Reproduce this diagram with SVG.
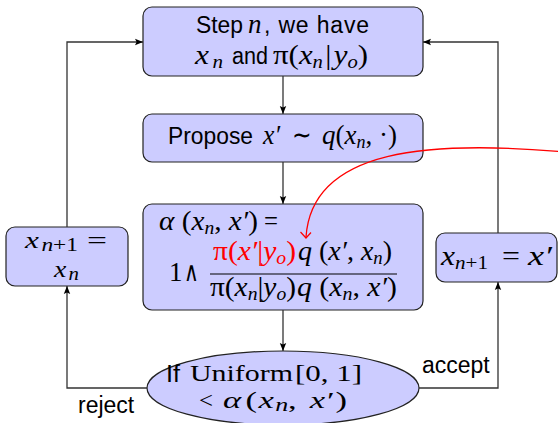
<svg xmlns="http://www.w3.org/2000/svg" width="558" height="423" viewBox="0 0 558 423">
  <defs>
    <marker id="arr" viewBox="0 0 10 10" refX="10" refY="5" markerWidth="8" markerHeight="8" markerUnits="userSpaceOnUse" orient="auto">
      <path d="M0,1 L10,5 L0,9 L2,5 Z" fill="#000"/>
    </marker>
    <style>
      .box { fill: #ccccff; stroke: #222; stroke-width: 1.2; }
      .conn { fill: none; stroke: #333; stroke-width: 1.3; }
      .sans { font-family: "Liberation Sans", Arial, sans-serif; font-size: 23px; fill: #000; }
      .m { font-family: "Liberation Serif", "Times New Roman", serif; font-size: 27px; fill: #000; }
      .sm { font-size: 24px; }
      .i { font-style: italic; }
      .s { font-size: 18px; }
      .red { fill: #ff0000; }
    </style>
  </defs>

  <!-- step n -->
  <g id="step">
    <rect class="box" x="143" y="7" width="280" height="69" rx="9"/>
    <text class="sans" x="196" y="33" textLength="47" lengthAdjust="spacingAndGlyphs">Step</text>
    <text class="m i" x="248" y="33">n</text>
    <text class="sans" x="264" y="33" textLength="105" lengthAdjust="spacing">, we have</text>
    <text class="m" x="195" y="64" textLength="28" lengthAdjust="spacingAndGlyphs"><tspan class="i">x</tspan><tspan class="i s" dx="3" dy="4">n</tspan></text>
    <text class="sans" x="232" y="64" textLength="36" lengthAdjust="spacingAndGlyphs">and</text>
    <text class="m" x="273" y="64" textLength="95" lengthAdjust="spacingAndGlyphs">π(<tspan class="i">x</tspan><tspan class="i s" dy="4">n</tspan><tspan dx="2" dy="-4">|</tspan><tspan class="i" dx="2">y</tspan><tspan class="i s" dy="4">o</tspan><tspan dy="-4">)</tspan></text>
  </g>

  <!-- proposal -->
  <g id="propose">
    <rect class="box" x="143" y="114" width="280" height="48" rx="9"/>
    <text class="sans" x="168" y="144" textLength="85" lengthAdjust="spacingAndGlyphs">Propose</text>
    <text class="m i" x="263" y="144" textLength="17" lengthAdjust="spacingAndGlyphs">x′</text>
    <text class="m" x="292" y="144" textLength="20" lengthAdjust="spacingAndGlyphs">∼</text>
    <text class="m" x="322" y="144" textLength="75" lengthAdjust="spacingAndGlyphs"><tspan class="i">q</tspan>(<tspan class="i">x</tspan><tspan class="i s" dy="4">n</tspan><tspan dy="-4">, ·)</tspan></text>
  </g>

  <!-- acceptance ratio -->
  <g id="alpha">
    <rect class="box" x="143" y="204" width="280" height="106" rx="9"/>
    <text class="m" x="159" y="230" textLength="99" lengthAdjust="spacingAndGlyphs"><tspan class="i">α</tspan> (<tspan class="i">x</tspan><tspan class="i s" dy="4">n</tspan><tspan dy="-4">, </tspan><tspan class="i">x′</tspan>)</text>
    <text class="m" x="264" y="230" textLength="14" lengthAdjust="spacingAndGlyphs">=</text>
    <text class="m" x="169" y="281">1</text>
    <text class="m" x="184" y="281" textLength="15" lengthAdjust="spacingAndGlyphs">∧</text>
    <text class="m red" x="213" y="260" textLength="83" lengthAdjust="spacingAndGlyphs">π(<tspan class="i">x′</tspan>|<tspan class="i">y</tspan><tspan class="i s" dy="4">o</tspan><tspan dy="-4">)</tspan></text>
    <text class="m" x="298" y="260" textLength="94" lengthAdjust="spacingAndGlyphs"><tspan class="i">q</tspan> (<tspan class="i">x′</tspan>, <tspan class="i">x</tspan><tspan class="i s" dy="4">n</tspan><tspan dy="-4">)</tspan></text>
    <line x1="210" y1="274" x2="397" y2="274" stroke="#000" stroke-width="1.1"/>
    <text class="m" x="210" y="296" textLength="86" lengthAdjust="spacingAndGlyphs">π(<tspan class="i">x</tspan><tspan class="i s" dy="4">n</tspan><tspan dy="-4">|</tspan><tspan class="i">y</tspan><tspan class="i s" dy="4">o</tspan><tspan dy="-4">)</tspan></text>
    <text class="m" x="297" y="296" textLength="100" lengthAdjust="spacingAndGlyphs"><tspan class="i">q</tspan> (<tspan class="i">x</tspan><tspan class="i s" dy="4">n</tspan><tspan dy="-4">, </tspan><tspan class="i">x′</tspan>)</text>
  </g>

  <!-- reject branch -->
  <g id="keep">
    <rect class="box" x="6" y="227" width="122" height="59" rx="9"/>
    <text class="m sm" x="25" y="248" textLength="53" lengthAdjust="spacingAndGlyphs"><tspan class="i">x</tspan><tspan class="s" dx="2" dy="3"><tspan class="i">n</tspan>+1</tspan></text>
    <text class="m sm" x="87" y="248" textLength="20" lengthAdjust="spacingAndGlyphs">=</text>
    <text class="m sm" x="54" y="277" textLength="25" lengthAdjust="spacingAndGlyphs"><tspan class="i">x</tspan><tspan class="i s" dx="2" dy="3">n</tspan></text>
  </g>

  <!-- accept branch -->
  <g id="move">
    <rect class="box" x="436" y="233" width="121" height="49" rx="9"/>
    <text class="m" x="441" y="265" textLength="47" lengthAdjust="spacingAndGlyphs"><tspan class="i">x</tspan><tspan class="s" dy="4"><tspan class="i">n</tspan>+1</tspan></text>
    <text class="m" x="502" y="265" textLength="18" lengthAdjust="spacingAndGlyphs">=</text>
    <text class="m i" x="528" y="265" textLength="24" lengthAdjust="spacingAndGlyphs">x′</text>
  </g>

  <!-- uniform test -->
  <g id="test">
    <ellipse class="box" cx="283" cy="388" rx="136" ry="37"/>
    <text class="sans" x="166" y="382" textLength="14" lengthAdjust="spacingAndGlyphs">If</text>
    <text class="m sm" x="190" y="381" textLength="103" lengthAdjust="spacingAndGlyphs">Uniform</text>
    <text class="m sm" x="295" y="381" textLength="67" lengthAdjust="spacingAndGlyphs">[0, 1]</text>
    <text class="m sm" x="199" y="408" textLength="14" lengthAdjust="spacingAndGlyphs">&lt;</text>
    <text class="m sm" x="223" y="408" textLength="124" lengthAdjust="spacingAndGlyphs"><tspan class="i">α</tspan><tspan dx="3">(</tspan><tspan class="i" dx="1">x</tspan><tspan class="i s" dx="1" dy="3">n</tspan><tspan dy="-3">,</tspan><tspan class="i" dx="9">x′</tspan><tspan dx="2">)</tspan></text>
  </g>

  <!-- connectors and branch labels -->
  <g id="connectors">
    <path class="conn" d="M283 76 V114" marker-end="url(#arr)"/>
    <path class="conn" d="M283 162 V204" marker-end="url(#arr)"/>
    <path class="conn" d="M283 310 V351" marker-end="url(#arr)"/>
    <path class="conn" d="M147 388 H67 V286" marker-end="url(#arr)"/>
    <path class="conn" d="M67 227 V42 H143" marker-end="url(#arr)"/>
    <path class="conn" d="M419 388 H498 V282" marker-end="url(#arr)"/>
    <path class="conn" d="M498 233 V42 H423" marker-end="url(#arr)"/>
    <path d="M566 152 C 430 140, 312 148, 306 237" fill="none" stroke="#ff0000" stroke-width="1.3"/>
    <path d="M300.5 232 L306 238 L311 232.5" fill="none" stroke="#ff0000" stroke-width="1.2"/>
    <text class="sans" x="78" y="413">reject</text>
    <text class="sans" x="422" y="373">accept</text>
  </g>
</svg>
